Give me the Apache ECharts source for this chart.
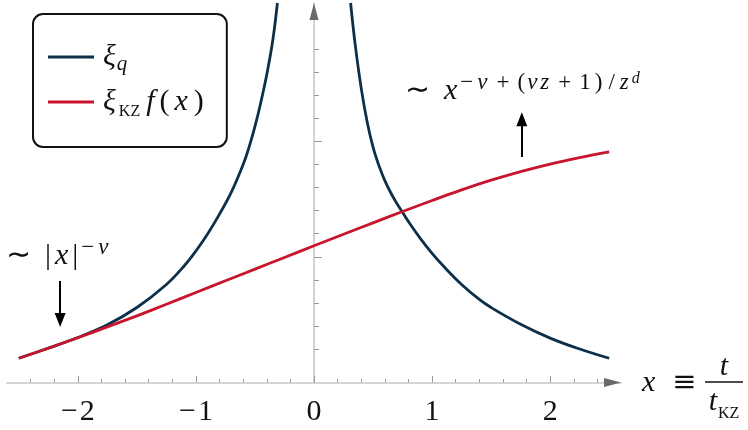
<!DOCTYPE html>
<html>
<head>
<meta charset="utf-8">
<script src="https://cdn.jsdelivr.net/npm/echarts@6/dist/echarts.min.js"></script>
<style>
html, body { margin: 0; padding: 0; background: #fff; }
#chart { width: 748px; height: 430px; }
</style>
</head>
<body>
<div id="chart"></div>
<script>
// region data

// axis ticks (x = t / t_KZ, y unlabeled)
const xMajorTicks = [-2, -1, 0, 1, 2]
const xMinorTicks = [-2.4, -2.2, -1.8, -1.6, -1.4, -1.2, -0.8, -0.6, -0.4, -0.2,
  0.2, 0.4, 0.6, 0.8, 1.2, 1.4, 1.6, 1.8, 2.2, 2.4]
const yMajorTicks = [1, 2]
const yMinorTicks = [0.2, 0.4, 0.6, 0.8, 1.2, 1.4, 1.6, 1.8, 2.2, 2.4, 2.6, 2.8]

// xi_KZ f(x)
const kzX = [-2.5, -2.25, -2, -1.75, -1.5, -1.25, -1, -0.75, -0.5, -0.25, 0,
  0.25, 0.5, 0.75, 1, 1.25, 1.5, 1.75, 2, 2.25, 2.5]
const kzY = [0.12, 0.207, 0.298, 0.392, 0.488, 0.588, 0.69, 0.792, 0.893, 0.994, 1.095,
  1.195, 1.294, 1.392, 1.488, 1.58, 1.664, 1.739, 1.804, 1.86, 1.91]

// xi_q, left branch (t < 0)
const qLeftX = [-2.5, -2.25, -2, -1.75, -1.5, -1.25, -1.1, -1, -0.9, -0.8,
  -0.7, -0.6, -0.55, -0.5, -0.45, -0.4, -0.35, -0.31]
const qLeftY = [0.12, 0.208, 0.30, 0.41, 0.56, 0.76, 0.92, 1.05, 1.20, 1.37,
  1.56, 1.80, 1.95, 2.13, 2.34, 2.58, 2.87, 3.2]

// xi_q, right branch (t > 0)
const qRightX = [0.31, 0.35, 0.4, 0.45, 0.5, 0.55, 0.6, 0.65, 0.7, 0.75, 0.8,
  0.9, 1, 1.1, 1.25, 1.4, 1.5, 1.75, 2, 2.25, 2.5]
const qRightY = [3.2, 2.83, 2.46, 2.17, 1.95, 1.79, 1.66, 1.555, 1.465, 1.385, 1.305,
  1.16, 1.03, 0.915, 0.76, 0.63, 0.56, 0.415, 0.295, 0.20, 0.12]

// endregion

const SERIF = 'Liberation Serif'
const SYM = 'DejaVu Serif'
const BLUE = '#0c3049'
const RED = '#c8142c'
const INK = '#111'

const kzData = kzX.map((x, i) => [x, kzY[i]])
const qData = qLeftX.map((x, i) => [x, qLeftY[i]])
  .concat([[0, '-']])
  .concat(qRightX.map((x, i) => [x, qRightY[i]]))

// rich styles for zrender text (graphic)
function zr(size, italic, pad, extra) {
  return Object.assign({
    fontFamily: SERIF, fontSize: size, fontStyle: italic ? 'italic' : 'normal',
    fill: INK, lineHeight: 40, padding: pad || [0, 0, 0, 0]
  }, extra || {})
}

const SUP = {lineHeight: 15, verticalAlign: 'top'}

const mathRich = {
  r: zr(30, false),
  i: zr(30, true),
  ix: zr(30, true, [0, 4, 0, 4]),
  rel: zr(30, false, [0, 14, 0, 0]),
  rel2: zr(29, false, [0, 13, 0, 13], {fontFamily: SYM}),
  sup: zr(23, false, [0, 2, 0, 2], SUP),
  supm: zr(23, false, [0, 4, 0, 3], SUP),
  supb: zr(23, false, [0, 6, 0, 6], SUP),
  supsl: zr(23, false, [0, 5, 0, 4], SUP),
  supi: zr(23, true, [0, 3, 0, 0], SUP),
  supsub: zr(16, true, [0, 0, 0, 0], {lineHeight: 25, verticalAlign: 'top'}),
  sc: zr(16, false, [0, 0, 0, 1], {lineHeight: 17, verticalAlign: 'bottom'})
}

// rich styles for legend (echarts keys)
function ec(size, italic, pad, extra) {
  return Object.assign({
    fontFamily: SERIF, fontSize: size, fontStyle: italic ? 'italic' : 'normal',
    color: INK, lineHeight: 36, padding: pad || [0, 0, 0, 0]
  }, extra || {})
}

const chart = echarts.init(document.getElementById('chart'))

const option = {
  animation: false,
  backgroundColor: '#fff',
  grid: {left: 7, right: 127, top: 3, bottom: 47.5},
  legend: {
    left: 33,
    top: 14,
    orient: 'vertical',
    padding: [28, 22, 27, 15],
    itemGap: 12,
    itemWidth: 46,
    itemHeight: 3,
    icon: 'rect',
    selectedMode: false,
    borderColor: INK,
    borderWidth: 2,
    borderRadius: 10,
    data: ['xiq', 'xikz'],
    formatter: function (n) {
      return n === 'xiq'
        ? '{g|ξ}{sub|q}'
        : '{g|ξ}{sc|KZ}{f|f}{r|(}{x|x}{r|)}'
    },
    textStyle: {
      rich: {
        g: ec(30, true, [0, 0, 0, 4]),
        f: ec(30, true, [0, 4, 0, 0]),
        x: ec(30, true, [0, 5, 0, 4]),
        r: ec(30, false, [0, 1, 0, 1]),
        sub: ec(21, true, [0, 0, 0, 1], {lineHeight: 21, verticalAlign: 'bottom'}),
        sc: ec(16, false, [0, 6, 0, 3], {lineHeight: 17, verticalAlign: 'bottom'})
      }
    }
  },
  xAxis: [
    {
      type: 'value', min: -2.6, max: 2.6,
      axisLine: {onZero: false, lineStyle: {color: '#c8c8c8', width: 1.6}},
      axisTick: {inside: true, length: 3.5, customValues: xMinorTicks, lineStyle: {color: '#999', width: 1}},
      axisLabel: {show: false},
      splitLine: {show: false}
    },
    {
      type: 'value', min: -2.6, max: 2.6, position: 'bottom',
      axisLine: {
        onZero: false,
        symbol: ['none', 'triangle'],
        symbolSize: [9, 17],
        symbolOffset: [0, -8.5],
        lineStyle: {color: '#6a6a6a', width: 0}
      },
      axisTick: {inside: true, length: 6.5, customValues: xMajorTicks, lineStyle: {color: '#999', width: 1}},
      axisLabel: {
        customValues: xMajorTicks,
        margin: 15,
        formatter: v => (v < 0 ? '{m|\u2212}{d|' + Math.abs(v) + '}' : '{d|' + v + '}'),
        rich: {
          m: {fontFamily: SERIF, fontSize: 30, color: INK, padding: [0, 2, 0, 0]},
          d: {fontFamily: SERIF, fontSize: 30, color: INK}
        }
      },
      splitLine: {show: false}
    }
  ],
  yAxis: [
    {
      type: 'value', min: -0.09, max: 3.2,
      axisLine: {onZero: true, lineStyle: {color: '#c8c8c8', width: 1.6}},
      axisTick: {inside: true, length: 5, customValues: yMinorTicks, lineStyle: {color: '#999', width: 1}},
      axisLabel: {show: false},
      splitLine: {show: false}
    },
    {
      type: 'value', min: -0.09, max: 3.2, position: 'left',
      axisLine: {
        onZero: true,
        symbol: ['none', 'triangle'],
        symbolSize: [9, 17],
        symbolOffset: [0, -8.5],
        lineStyle: {color: '#6a6a6a', width: 0}
      },
      axisTick: {inside: true, length: 8, customValues: yMajorTicks, lineStyle: {color: '#999', width: 1}},
      axisLabel: {show: false},
      splitLine: {show: false}
    }
  ],
  series: [
    {
      name: 'xiq',
      type: 'line',
      data: qData,
      showSymbol: false,
      smooth: 0.4,
      lineStyle: {color: BLUE, width: 2.8},
      itemStyle: {color: BLUE}
    },
    {
      name: 'xikz',
      type: 'line',
      data: kzData,
      showSymbol: false,
      smooth: 0.4,
      lineStyle: {color: RED, width: 2.8},
      itemStyle: {color: RED},
      markLine: {
        silent: true,
        symbol: ['none', 'triangle'],
        symbolSize: [11, 14],
        label: {show: false},
        lineStyle: {color: '#000', width: 2, type: 'solid'},
        data: [
          [{coord: [-2.15, 0.79]}, {coord: [-2.15, 0.451]}],
          [{coord: [1.76, 1.864]}, {coord: [1.76, 2.193]}]
        ]
      }
    }
  ],
  graphic: [
    {
      type: 'text', x: 6, y: 256,
      style: {
        text: '{rel|\u223c}{r||}{ix|x}{r||}{supm|\u2212}{supi|ν}',
        rich: mathRich, verticalAlign: 'middle'
      }
    },
    {
      type: 'text', x: 405, y: 91,
      style: {
        text: '{rel|\u223c}{i|x}{supm|\u2212}{supi|ν}{supb|+}{sup|(}{supi|ν}{supi|z}{supb|+}{sup|1}{sup|)}{supsl|/}{supi|z}{supsub|d}',
        rich: mathRich, verticalAlign: 'middle'
      }
    },
    {
      type: 'text', x: 638, y: 383,
      style: {text: '{ix|x}{rel2|\u2261}', rich: mathRich, verticalAlign: 'middle'}
    },
    {
      type: 'text', x: 724, y: 367,
      style: {text: '{i|t}', rich: mathRich, align: 'center', verticalAlign: 'middle'}
    },
    {
      type: 'line',
      shape: {x1: 705, y1: 382, x2: 743, y2: 382},
      style: {stroke: INK, lineWidth: 1.5}
    },
    {
      type: 'text', x: 724, y: 402,
      style: {text: '{i|t}{sc|KZ}', rich: mathRich, align: 'center', verticalAlign: 'middle'}
    }
  ]
}

chart.setOption(option)
</script>
</body>
</html>
